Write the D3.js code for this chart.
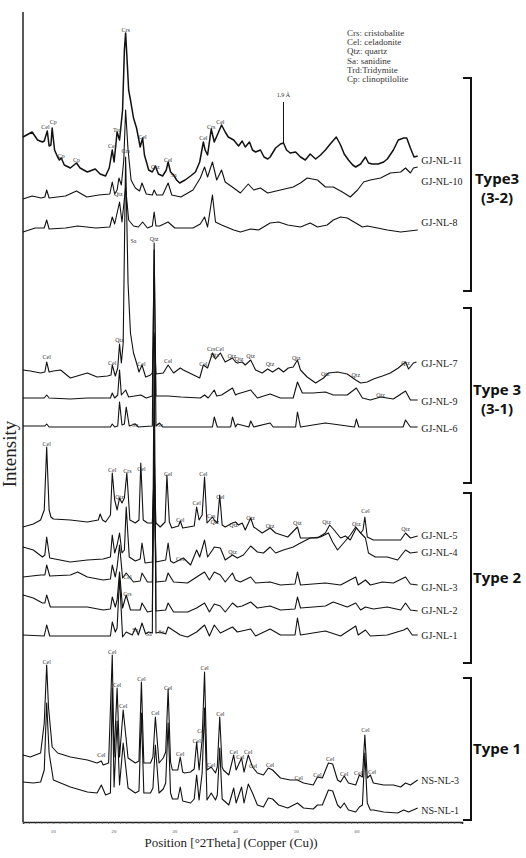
<!DOCTYPE html>
<html>
<head>
<meta charset="utf-8">
<style>
    body { margin: 0; background: #fff; }
    svg { display: block; font-family: 'Liberation Serif', 'Times New Roman', serif; }
    .peak { font-size: 6px; fill: #333; text-anchor: middle; }
    .sample { font-size: 10px; fill: #222; }
    .legend { font-size: 9px; fill: #333; }
    .type { font-family: 'Open Sans', sans-serif; font-weight: 700; font-size: 15px; text-anchor: middle; fill: #111; }
</style>
</head>
<body>
<svg width="526" height="858"></svg>
<script src="https://d3js.org/d3.v7.min.js"></script>
<script>
// stacked XRD patterns: [2theta, relative intensity]
let gjnl11 = [[5.0,46],[6.5,51],[7.4,43],[8.2,41],[8.5,42],[9.0,52],[9.3,37],[9.6,38],[9.8,55],[10.2,33],[10.7,26],[11.0,23],[11.3,25],[11.8,18],[12.8,15],[13.8,20],[14.4,15],[15.6,11],[16.9,14],[17.7,9],[18.6,7],[19.2,15],[19.7,33],[20.0,21],[20.5,51],[20.9,43],[21.4,73],[21.7,133],[21.9,150],[22.1,128],[22.4,93],[22.7,83],[23.2,65],[23.7,55],[24.3,36],[24.7,45],[25.0,28],[25.7,13],[26.3,11],[26.8,17],[27.3,9],[28.0,7],[28.6,13],[28.9,21],[29.3,11],[29.8,8],[30.3,3],[30.8,0],[31.7,3],[32.6,7],[33.4,11],[34.1,21],[34.7,41],[35.0,33],[35.4,28],[36.0,54],[36.5,41],[37.0,48],[37.7,58],[38.3,51],[38.8,46],[39.7,43],[40.5,37],[41.1,42],[41.6,36],[42.3,41],[42.8,33],[43.3,31],[44.1,33],[44.7,26],[45.3,24],[45.7,26],[46.6,35],[47.4,39],[47.9,40],[48.4,33],[49.0,30],[49.9,31],[50.7,26],[51.5,23],[52.3,29],[53.2,24],[54.0,28],[54.8,33],[55.6,39],[56.6,46],[57.3,38],[57.9,29],[58.6,23],[59.3,18],[59.8,16],[60.6,19],[61.4,26],[61.9,20],[62.5,19],[63.5,19],[64.4,21],[65.0,24],[66.0,33],[66.8,43],[67.7,45],[68.2,45],[68.8,35],[69.4,26],[70.0,27]];
let gjnl10 = [[5.0,1],[6.5,4],[8.0,2],[8.6,3],[8.9,10],[9.3,2],[12.0,4],[13.8,9],[15.5,3],[17.5,5],[19.3,6],[19.7,18],[20.1,6],[20.5,10],[20.8,22],[21.2,15],[21.6,40],[21.9,90],[22.3,50],[22.8,20],[23.5,12],[24.2,9],[24.6,17],[25.3,6],[26.3,5],[26.6,10],[27.0,5],[28.0,5],[28.9,17],[29.5,5],[31.0,3],[33.0,10],[34.2,22],[34.9,33],[35.4,23],[36.2,38],[36.9,20],[37.7,30],[38.3,18],[39.7,12],[40.8,7],[42.1,16],[43.0,10],[44.1,12],[45.3,7],[47.4,10],[49.5,13],[50.7,17],[51.8,22],[53.5,20],[54.8,13],[56.1,13],[57.6,8],[58.9,3],[60.1,10],[61.1,18],[62.2,20],[63.9,22],[65.5,27],[67.2,28],[68.0,32],[68.8,27],[69.3,32],[70.0,33]];
let gjnl8 = [[5.0,0],[7.0,4],[8.5,4],[8.9,12],[9.3,3],[12.0,4],[14.0,6],[17.0,4],[19.3,5],[19.7,15],[20.1,8],[20.9,30],[21.3,10],[21.9,45],[22.4,12],[23.2,6],[24.0,5],[24.7,10],[25.5,4],[26.3,6],[26.6,20],[26.9,6],[27.5,6],[28.9,10],[30.0,4],[33.0,4],[34.2,8],[34.9,15],[35.4,5],[36.2,37],[36.7,10],[37.7,7],[39.7,2],[40.8,0],[42.5,3],[43.8,2],[45.7,9],[47.1,10],[48.6,7],[50.7,5],[52.3,9],[53.5,5],[55.1,7],[56.1,12],[57.3,15],[58.4,14],[59.8,9],[60.9,5],[61.7,6],[63.4,4],[65.0,2],[67.2,0],[70.0,2]];
let gjnl7 = [[5.0,13],[6.2,12],[7.9,10],[8.6,11],[8.9,21],[9.3,11],[10.0,12],[11.2,13],[12.8,5],[15.6,10],[17.2,6],[18.9,7],[19.5,8],[19.7,18],[20.2,7],[20.6,15],[20.9,39],[21.2,20],[21.5,40],[21.9,226],[22.3,100],[22.7,50],[23.2,30],[23.7,20],[24.1,11],[24.6,18],[25.2,6],[26.0,8],[26.3,10],[26.6,50],[26.9,9],[28.1,10],[28.9,18],[29.8,10],[30.9,15],[31.4,13],[33.1,8],[34.1,5],[34.7,18],[35.4,15],[36.2,30],[36.7,24],[37.5,30],[38.3,21],[39.5,25],[40.0,21],[40.3,20],[41.1,21],[41.6,18],[42.5,23],[43.3,13],[44.4,10],[45.3,14],[46.1,11],[47.1,15],[47.9,11],[48.7,15],[49.5,16],[50.2,23],[50.7,13],[51.8,6],[53.2,0],[54.5,5],[55.3,10],[56.8,11],[58.4,9],[59.8,3],[60.6,0],[61.7,1],[62.7,4],[64.2,7],[65.5,10],[66.8,15],[68.0,21],[68.5,14],[69.3,20],[69.8,21]];
let gjnl9 = [[5.0,2],[8.5,2],[8.9,5],[9.3,2],[12.8,1],[15.6,2],[19.4,2],[19.7,7],[20.1,2],[20.6,5],[20.9,30],[21.2,5],[21.9,10],[22.4,3],[24.4,5],[25.3,2],[26.3,4],[26.6,150],[26.9,4],[28.9,4],[31.0,3],[34.2,2],[34.9,5],[35.5,2],[36.5,10],[36.9,4],[37.7,5],[39.5,12],[40.0,5],[40.3,6],[42.5,10],[43.6,2],[45.7,6],[47.4,2],[49.5,2],[50.2,18],[51.0,7],[52.8,7],[54.8,8],[56.1,5],[58.4,5],[59.9,12],[60.9,2],[62.2,0],[63.9,3],[66.0,1],[68.0,9],[68.8,0],[70.0,0]];
let gjnl6 = [[5.0,1],[8.6,1],[8.9,3],[9.3,0],[19.4,0],[19.7,3],[20.1,0],[20.6,1],[20.9,25],[21.3,2],[21.7,3],[22.0,20],[22.5,1],[23.5,3],[24.0,0],[26.3,1],[26.6,184],[26.9,1],[27.5,4],[28.0,0],[36.2,0],[36.5,10],[37.0,0],[39.2,0],[39.5,10],[40.0,0],[40.3,3],[42.2,0],[42.5,6],[43.0,0],[45.7,4],[46.2,0],[49.9,0],[50.2,15],[50.7,0],[54.8,4],[59.6,0],[59.9,8],[60.3,0],[67.6,0],[68.0,7],[68.8,0],[70.0,0]];
let gjnl5 = [[5.0,13],[6.7,16],[7.9,20],[8.5,30],[8.9,93],[9.3,30],[9.6,23],[10.0,21],[12.8,20],[15.6,18],[17.4,20],[17.7,26],[18.1,20],[18.6,18],[19.4,25],[19.7,67],[20.1,40],[20.5,30],[20.9,42],[21.3,37],[21.7,42],[22.1,67],[22.6,20],[23.5,17],[24.1,20],[24.4,77],[24.8,20],[25.5,17],[26.3,17],[26.6,70],[26.9,17],[27.6,13],[28.4,18],[28.7,65],[29.1,18],[29.5,12],[30.6,14],[30.9,19],[31.3,12],[33.2,14],[33.6,33],[34.0,20],[34.5,25],[34.9,63],[35.3,17],[36.2,23],[36.5,20],[37.0,17],[37.4,45],[37.8,15],[38.3,13],[39.5,17],[40.0,18],[40.5,15],[41.1,17],[41.6,10],[42.5,22],[43.0,13],[44.4,7],[45.7,12],[46.6,7],[48.6,3],[50.2,13],[50.7,2],[53.5,2],[54.8,7],[55.5,15],[56.1,11],[57.3,2],[58.1,4],[58.9,0],[59.9,12],[60.6,7],[61.0,10],[61.3,23],[61.7,3],[62.7,0],[65.0,0],[67.2,0],[68.0,7],[68.8,2],[70.0,4]];
let gjnl4 = [[5.0,18],[6.7,15],[8.2,8],[8.6,10],[8.9,28],[9.4,7],[12.8,3],[15.6,5],[18.2,6],[19.4,8],[19.7,30],[20.1,12],[20.5,20],[20.9,32],[21.3,12],[21.7,15],[22.0,58],[22.5,8],[23.5,4],[24.3,6],[24.6,22],[25.1,2],[26.3,3],[26.6,85],[26.9,3],[28.5,5],[28.9,22],[29.3,4],[29.8,2],[31.4,7],[32.6,0],[33.6,15],[34.1,8],[34.9,25],[35.4,8],[36.2,15],[36.5,18],[37.5,17],[38.3,5],[39.5,10],[40.3,7],[41.3,10],[42.5,19],[43.6,13],[44.6,12],[45.7,18],[46.6,12],[47.9,15],[49.5,18],[50.7,22],[52.3,27],[54.0,28],[55.3,32],[56.0,23],[56.8,15],[57.8,22],[58.9,30],[59.8,38],[60.6,32],[61.4,27],[61.9,12],[63.0,8],[65.0,8],[66.7,5],[68.0,15],[68.8,12],[70.0,13]];
let gjnl3 = [[5.0,8],[7.9,10],[8.6,10],[8.9,20],[9.4,9],[12.8,10],[14.0,13],[15.6,8],[18.2,5],[19.4,6],[19.7,20],[20.2,8],[20.5,18],[20.9,40],[21.4,7],[22.0,12],[23.2,3],[24.3,4],[24.6,12],[25.5,3],[26.3,3],[26.6,145],[26.9,3],[28.5,4],[28.9,12],[29.8,3],[32.1,2],[33.6,8],[34.9,13],[35.7,5],[36.5,13],[37.5,10],[38.3,3],[39.5,12],[40.0,5],[40.8,3],[42.5,8],[43.3,2],[45.7,3],[47.4,0],[49.8,1],[50.2,13],[50.7,0],[54.8,2],[57.3,0],[59.8,8],[60.2,0],[61.4,5],[62.2,0],[64.2,3],[66.0,2],[68.0,8],[68.8,1],[70.0,0]];
let gjnl2 = [[5.0,17],[6.7,14],[8.2,9],[8.6,9],[8.9,17],[9.5,5],[12.8,5],[15.6,5],[18.2,2],[19.4,3],[19.7,15],[20.2,5],[20.5,12],[20.9,40],[21.4,4],[22.0,17],[22.7,2],[24.3,2],[24.6,9],[25.5,0],[26.3,1],[26.6,182],[26.9,1],[28.5,2],[28.9,9],[29.8,0],[32.1,0],[33.6,4],[34.9,9],[35.7,0],[36.5,8],[37.5,6],[38.3,0],[39.5,9],[40.3,5],[41.1,6],[42.5,10],[43.6,4],[45.7,6],[47.4,2],[49.8,3],[50.2,15],[50.7,4],[52.8,5],[54.8,6],[56.1,10],[58.4,5],[59.8,9],[60.6,2],[61.4,5],[62.7,3],[65.0,5],[67.2,2],[68.0,9],[68.8,2],[70.0,1]];
let gjnl1 = [[5.0,2],[8.5,1],[8.9,12],[9.4,1],[15.6,1],[19.4,1],[19.7,15],[20.2,5],[20.5,9],[20.9,60],[21.4,0],[22.0,5],[23.0,2],[23.5,9],[24.0,2],[24.6,14],[25.2,3],[25.7,5],[26.3,4],[26.6,300],[26.9,4],[27.6,5],[28.5,3],[28.9,10],[30.9,2],[32.1,0],[33.6,5],[34.9,12],[35.7,1],[36.5,12],[37.5,4],[39.5,10],[40.3,5],[42.5,8],[43.3,1],[45.7,8],[47.4,2],[49.8,2],[50.2,19],[50.7,2],[54.8,6],[57.3,1],[59.8,11],[60.2,2],[61.4,7],[62.2,1],[65.0,2],[67.7,7],[68.3,9],[69.1,2],[70.0,2]];
let nsnl3 = [[5.0,32],[6.2,30],[7.9,34],[8.5,64],[8.9,122],[9.2,80],[9.8,40],[10.7,34],[12.8,30],[15.6,27],[17.2,24],[17.9,26],[18.2,22],[19.1,24],[19.7,132],[20.0,30],[20.5,99],[20.9,30],[21.5,77],[22.3,29],[23.5,24],[24.1,26],[24.5,105],[24.9,24],[26.0,24],[26.4,30],[26.8,70],[27.4,24],[28.1,29],[28.5,35],[28.9,98],[29.3,25],[29.6,17],[30.5,17],[30.9,30],[31.3,15],[31.6,14],[32.6,15],[33.2,18],[33.6,45],[34.0,17],[34.5,47],[34.9,115],[35.3,17],[36.0,20],[36.7,14],[37.0,20],[37.4,70],[37.8,20],[38.0,17],[38.9,12],[39.7,32],[40.1,17],[41.0,29],[41.4,15],[42.1,32],[42.8,20],[43.6,14],[44.6,12],[45.4,19],[46.1,17],[47.4,9],[49.0,7],[50.2,7],[51.2,4],[52.8,2],[53.5,10],[54.3,9],[55.3,24],[56.0,23],[56.8,7],[57.3,5],[57.9,11],[58.6,4],[59.8,2],[60.4,12],[60.9,10],[61.3,52],[61.7,9],[62.2,12],[62.7,4],[64.4,2],[66.0,2],[67.2,0],[68.0,4],[68.8,2],[70.0,7]];
let nsnl1 = [[5.0,31],[6.7,30],[7.9,31],[8.5,43],[8.9,110],[9.3,60],[10.0,33],[12.8,26],[15.6,21],[17.2,20],[17.9,28],[18.6,18],[19.4,20],[19.7,125],[20.0,26],[20.5,92],[20.9,28],[21.5,70],[22.3,25],[23.5,20],[24.1,22],[24.5,100],[24.9,20],[26.0,20],[26.4,25],[26.8,68],[27.4,20],[28.1,24],[28.5,30],[28.9,90],[29.3,20],[29.6,14],[30.5,14],[30.9,26],[31.3,12],[32.6,10],[33.2,14],[33.6,38],[34.0,13],[34.5,40],[34.9,105],[35.3,13],[36.0,20],[36.7,13],[37.0,18],[37.4,65],[37.8,14],[38.9,8],[39.7,25],[40.1,10],[41.0,26],[41.4,10],[42.1,29],[42.8,20],[43.6,8],[44.6,6],[45.4,15],[46.1,14],[47.1,8],[48.6,5],[50.2,10],[51.2,5],[52.8,4],[53.5,8],[54.3,8],[55.3,23],[56.0,22],[56.8,8],[57.3,5],[57.9,10],[58.6,3],[59.8,1],[60.4,6],[60.9,8],[61.3,60],[61.7,10],[62.2,3],[62.7,3],[64.4,1],[66.7,0],[67.7,3],[68.5,1],[70.0,5]];

let sampleNames = ["GJ-NL-11","GJ-NL-10","GJ-NL-8","GJ-NL-7","GJ-NL-9","GJ-NL-6","GJ-NL-5","GJ-NL-4","GJ-NL-3","GJ-NL-2","GJ-NL-1","NS-NL-3","NS-NL-1"];
let sampleData = [gjnl11, gjnl10, gjnl8, gjnl7, gjnl9, gjnl6, gjnl5, gjnl4, gjnl3, gjnl2, gjnl1, nsnl3, nsnl1];
let offsets = [639, 622, 590, 439, 422, 395, 282, 257, 237, 210, 185, 35, 9];
let labelLevels = [662, 641, 600, 459, 421, 394, 287, 270, 235, 212, 187, 42, 12];

// phase labels: [2theta, level, text]
let peakLabels = [
    [21.9,792,"Crs"],[8.7,695,"Cel"],[10.0,700,"Cp"],[11.3,666,"Cp"],[13.8,662,"Cp"],[19.7,676,"Cel"],[20.5,692,"Trd"],
    [24.7,685,"Cel"],[26.8,655,"Qtz"],[28.9,662,"Cel"],[29.8,647,"Sa"],[34.7,684,"Cel"],[36.0,695,"Crs"],[37.5,700,"Cel"],
    [20.7,628,"Qtz"],[23.2,581,"Sa"],[26.6,583,"Qtz"],
    [21.9,671,"Crs"],[8.9,465,"Cel"],[20.9,482,"Qtz"],[19.7,459,"Cel"],[24.5,458,"Cel"],[28.9,461,"Cel"],[34.7,458,"Cel"],
    [36.0,473,"Crs"],[37.4,473,"Cel"],[36.6,467,"Qtz"],[39.4,466,"Qtz"],[40.6,463,"Qtz"],[42.5,466,"Qtz"],[45.7,458,"Qtz"],
    [50.0,464,"Qtz"],[54.8,448,"Qtz"],[59.8,447,"Qtz"],[68.0,459,"Qtz"],[63.9,427,"Qtz"],[23.5,397,"Sa"],[27.6,397,"Sa"],
    [8.9,378,"Cel"],[19.7,352,"Cel"],[20.9,325,"Qtz"],[22.2,351,"Crs"],[24.5,353,"Cel"],[28.9,348,"Cel"],[30.9,302,"Cel"],
    [33.6,319,"Cel"],[34.7,348,"Cel"],[36.0,306,"Crs"],[36.6,300,"Qtz"],[37.5,325,"Cel"],[39.7,297,"Qtz"],[42.5,304,"Qtz"],
    [45.7,296,"Qtz"],[50.2,299,"Qtz"],[55.0,300,"Qtz"],[59.9,298,"Qtz"],[61.4,311,"Cel"],[68.0,293,"Qtz"],
    [30.9,263,"Crs"],[39.5,270,"Qtz"],[22.2,245,"Cel"],[22.2,228,"Crs"],[23.5,192,"Sa"],[25.7,188,"Sa"],[27.8,190,"Sa"],
    [8.9,160,"Cel"],[17.9,67,"Cel"],[19.7,170,"Cel"],[20.5,137,"Cel"],[21.5,116,"Cel"],[24.5,143,"Cel"],[26.8,109,"Cel"],
    [28.9,134,"Cel"],[30.9,68,"Cel"],[33.6,81,"Cel"],[34.4,91,"Cel"],[34.9,154,"Cel"],[36.0,57,"Cel"],[37.5,108,"Cel"],
    [39.7,70,"Cel"],[40.8,65,"Cel"],[42.1,70,"Cel"],[42.9,56,"Cel"],[45.7,57,"Cel"],[50.4,44,"Cel"],[53.5,47,"Cel"],
    [55.6,63,"Cel"],[57.9,48,"Cel"],[60.2,49,"Cel"],[61.4,92,"Cel"],[62.5,50,"Cel"]
];

let legendItems = ["Crs: cristobalite","Cel: celadonite","Qtz: quartz","Sa: sanidine","Trd:Tridymite","Cp: clinoptilolite"];

// groups: [top level, bottom level, first line, second line]
let groups = [[744, 531, "Type3", "(3-2)"], [514, 339, "Type 3", "(3-1)"], [329, 159, "Type 2", ""], [144, 2, "Type 1", ""]];

let tickValues = [10, 20, 30, 40, 50, 60];

let svg = d3.select("svg");

let x = d3.scaleLinear().domain([5, 77.3]).range([23, 462]);
let y = d3.scaleLinear().domain([0, 810]).range([822, 12]);

// axes frame
let xAxis = d3.axisBottom(x)
    .tickValues(d3.range(5, 78, 1))
    .tickSize(2)
    .tickFormat("");
svg.append("g")
    .attr("transform", "translate(0,822)")
    .call(xAxis)
    .call(g => g.select(".domain").attr("stroke", "#222").attr("stroke-width", 1.5))
    .call(g => g.selectAll(".tick line").attr("stroke", "#555").attr("stroke-width", 0.6));

svg.append("g")
    .selectAll("text")
    .data(tickValues)
    .join("text")
    .attr("x", d => x(d))
    .attr("y", 833)
    .attr("text-anchor", "middle")
    .style("font-size", "5px")
    .style("fill", "#555")
    .text(d => d);

svg.append("line")
    .attr("x1", x(5)).attr("x2", x(5))
    .attr("y1", y(810)).attr("y2", y(0))
    .attr("stroke", "#222").attr("stroke-width", 1.5);

svg.append("text")
    .attr("x", 231).attr("y", 847)
    .attr("text-anchor", "middle")
    .style("font-size", "13px")
    .style("fill", "#222")
    .text("Position [°2Theta] (Copper (Cu))");

svg.append("text")
    .attr("transform", "translate(16,454) rotate(-90)")
    .attr("text-anchor", "middle")
    .style("font-size", "19px")
    .style("fill", "#222")
    .text("Intensity");

// patterns
let line = d3.line()
    .x(d => x(d[0]))
    .y(d => y(d[1]));

svg.append("g")
    .selectAll("path")
    .data(sampleData)
    .join("path")
    .attr("d", (d, i) => line(d.map(p => [p[0], p[1] + offsets[i]])))
    .attr("fill", "none")
    .attr("stroke", "#111")
    .attr("stroke-width", (d, i) => i == 0 ? 1.5 : 1.1)
    .attr("stroke-linejoin", "round");

svg.append("g")
    .selectAll("text")
    .data(sampleNames)
    .join("text")
    .attr("class", "sample")
    .attr("x", x(70.6))
    .attr("y", (d, i) => y(labelLevels[i]))
    .attr("dy", "0.35em")
    .text(d => d);

svg.append("g")
    .selectAll("text")
    .data(peakLabels)
    .join("text")
    .attr("class", "peak")
    .attr("x", d => x(d[0]))
    .attr("y", d => y(d[1]))
    .attr("dy", "0.35em")
    .text(d => d[2]);

// 1.9 A marker
svg.append("line")
    .attr("x1", x(47.9)).attr("x2", x(47.9))
    .attr("y1", y(720)).attr("y2", y(679))
    .attr("stroke", "#111").attr("stroke-width", 1);
svg.append("text")
    .attr("class", "peak")
    .attr("x", x(47.9)).attr("y", y(725))
    .text("1.9 Å");

// legend
svg.append("g")
    .selectAll("text")
    .data(legendItems)
    .join("text")
    .attr("class", "legend")
    .attr("x", 347)
    .attr("y", (d, i) => 36 + i * 9.2)
    .text(d => d);

// group brackets
let bx = 471;
groups.forEach(g => {
    let t = y(g[0]), b = y(g[1]);
    svg.append("path")
        .attr("d", `M${bx - 8},${t}H${bx}V${b}H${bx - 8}`)
        .attr("fill", "none")
        .attr("stroke", "#111")
        .attr("stroke-width", 2);
    let mid = (t + b) / 2;
    if (g[3]) {
        svg.append("text").attr("class", "type").attr("x", 497).attr("y", mid - 1).text(g[2]);
        svg.append("text").attr("class", "type").attr("x", 497).attr("y", mid + 18).text(g[3]);
    } else {
        svg.append("text").attr("class", "type").attr("x", 497).attr("y", mid + 5).text(g[2]);
    }
});
</script>
</body>
</html>
